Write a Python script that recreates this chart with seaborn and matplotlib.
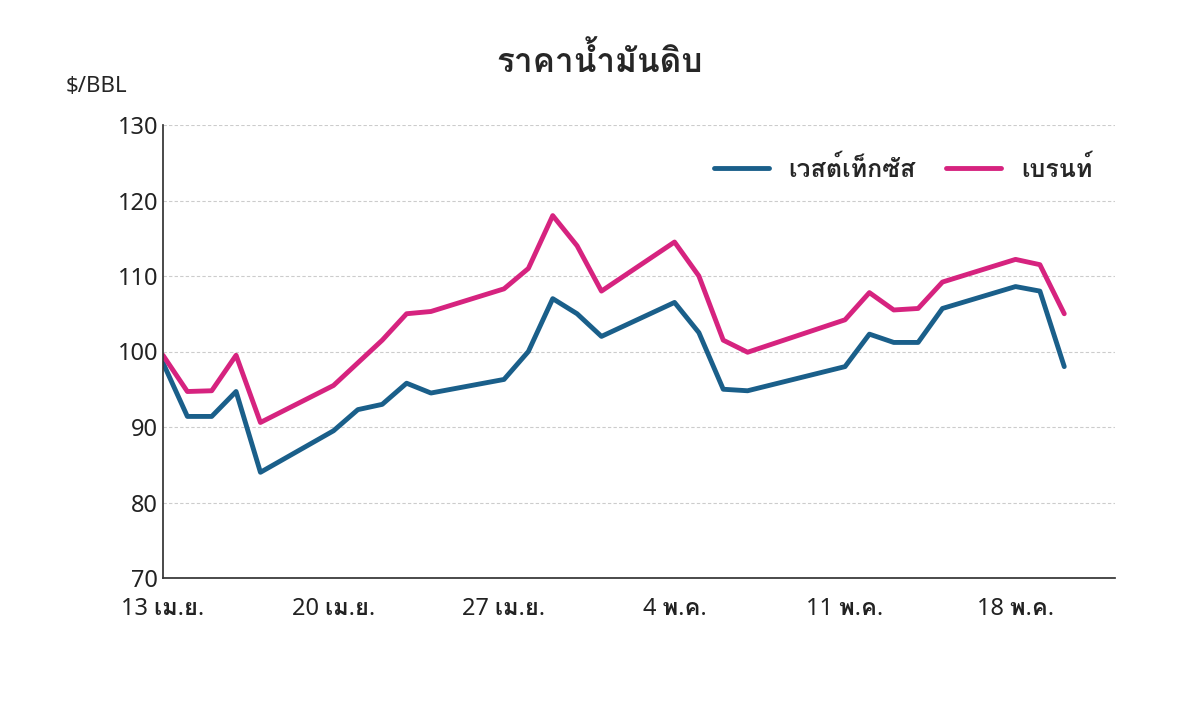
import matplotlib
matplotlib.use("Agg")
import matplotlib.pyplot as plt
import matplotlib.font_manager as fm
from matplotlib.ft2font import FT2Font
import seaborn as sns
import pandas as pd

sns.set_theme(style="white")

# find any installed family covering Thai
thai_fams = []
for f in fm.fontManager.ttflist:
    try:
        if 0x0E01 in FT2Font(f.fname).get_charmap() and f.name not in thai_fams:
            thai_fams.append(f.name)
    except Exception:
        pass
fams = ['Noto Sans'] + thai_fams + ['DejaVu Sans']
plt.rcParams['font.family'] = fams

dates = ["2022-04-13","2022-04-14","2022-04-15","2022-04-16","2022-04-17","2022-04-20","2022-04-21",
         "2022-04-22","2022-04-23","2022-04-24","2022-04-27","2022-04-28","2022-04-29","2022-04-30",
         "2022-05-01","2022-05-04","2022-05-05","2022-05-06","2022-05-07","2022-05-11","2022-05-12",
         "2022-05-13","2022-05-14","2022-05-15","2022-05-18","2022-05-19","2022-05-20"]
wti = [98.5,91.4,91.4,94.7,84.0,89.5,92.3,93.0,95.8,94.5,96.3,100.0,107.0,105.0,102.0,106.5,102.5,
       95.0,94.8,98.0,102.3,101.2,101.2,105.7,108.6,108.0,98.0]
brent = [99.5,94.7,94.8,99.5,90.6,95.5,98.5,101.5,105.0,105.3,108.3,111.0,118.0,114.0,108.0,114.5,
         110.0,101.5,99.9,104.2,107.8,105.5,105.7,109.2,112.2,111.5,105.0]
tick_dates = ["2022-04-13","2022-04-20","2022-04-27","2022-05-04","2022-05-11","2022-05-18"]
tick_labels = ["13 เม.ย.","20 เม.ย.","27 เม.ย.","4 พ.ค.","11 พ.ค.","18 พ.ค."]
names = ["เวสต์เท็กซัส","เบรนท์"]

d = pd.to_datetime(dates)
df = pd.DataFrame({"date": list(d)*2, "price": wti+brent, "series": [names[0]]*len(d)+[names[1]]*len(d)})

fig = plt.figure(figsize=(12, 7.05), dpi=100)
ax = fig.add_axes([163/1200, 1-578/705, (1115-163)/1200, (578-125)/705])
sns.lineplot(data=df, x="date", y="price", hue="series", palette=["#1a5f8a", "#d6237f"],
             linewidth=3.5, ax=ax)
ax.set_ylim(70, 130)
ax.set_yticks(range(70, 131, 10))
ax.set_xlim(pd.Timestamp("2022-04-13"), pd.Timestamp("2022-05-22 02:00"))
ax.set_xticks(pd.to_datetime(tick_dates))
ax.set_xticklabels(tick_labels)
ax.grid(axis="y", color="#cccccc", linestyle=(0, (3, 2)), linewidth=0.8)
for s in ["top", "right"]:
    ax.spines[s].set_visible(False)
ax.spines["left"].set_color("#333333")
ax.spines["bottom"].set_color("#333333")
ax.tick_params(axis="both", labelsize=17, length=6, direction="in", colors="#222222")
ax.tick_params(axis="x", pad=14)
for t in ax.get_xticklabels() + ax.get_yticklabels():
    t.set_fontweight("bold")
ax.set_xlabel("")
ax.set_ylabel("")
ax.legend(loc="upper right", bbox_to_anchor=(1.0, 0.98), ncol=2, frameon=False,
          handlelength=2.2, columnspacing=1.2, title=None,
          prop={"weight": "bold", "size": 18, "family": fams})
fig.text(0.5, 1-62/705, "ราคาน้ำมันดิบ", ha="center", va="center", fontsize=24, fontweight="bold")
fig.text(66/1200, 1-87/705, "$/BBL", ha="left", va="center", fontsize=16, fontweight="bold")
fig.savefig("out.png", dpi=100, facecolor="white")
